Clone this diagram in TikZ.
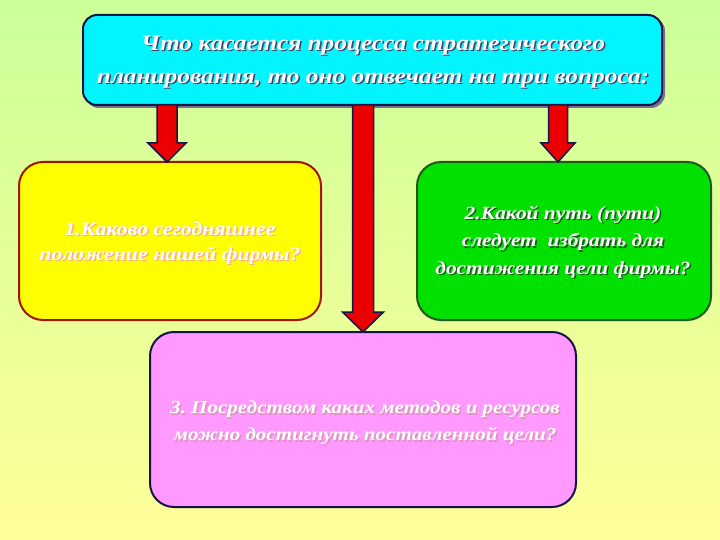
\documentclass[tikz,border=0pt]{standalone}
\usepackage{fontspec}
\setmainfont{Liberation Serif}
\newfontfamily\boxfont[FakeStretch=1.15]{Liberation Serif}
\usetikzlibrary{calc}
\frenchspacing
\definecolor{bgtop}{RGB}{204,255,153}
\definecolor{bgbot}{RGB}{255,255,153}
\definecolor{boxcyan}{RGB}{0,245,255}
\definecolor{boxyellow}{RGB}{255,255,0}
\definecolor{boxgreen}{RGB}{0,225,0}
\definecolor{boxpink}{RGB}{255,153,255}
\definecolor{arrred}{RGB}{235,0,0}
\definecolor{navyline}{RGB}{20,20,70}
\definecolor{redline}{RGB}{160,20,0}
\definecolor{greenline}{RGB}{30,90,30}
\tikzset{
  box/.style={rounded corners=#1, line width=2pt},
  txt/.style={text=white, align=center, inner sep=0pt},
  shd/.style={text=#1, align=center, inner sep=0pt},
  blockarr/.style={fill=arrred, draw=navyline, line width=1.5pt, line join=miter},
}
\newcommand{\shtext}[5]{% name, position, shadowcolor, font size spec, text
  \node[shd=#3, font={\boxfont\bfseries\itshape#4}] at ($#2+(1.5,1.5)$) {#5};
  \node[txt, font={\boxfont\bfseries\itshape#4}] (#1) at #2 {#5};
}
\begin{document}
\begin{tikzpicture}[x=1pt,y=-1pt]
\useasboundingbox (0,0) rectangle (720,540);
\shade[top color=bgtop, bottom color=bgbot] (0,0) rectangle (720,540);

% boxes
\fill[navyline!60, rounded corners=14pt] (85,17) rectangle (665,108);
\draw[box=14pt, fill=boxcyan, draw=navyline] (83,15) rectangle (662,105);
\coordinate (topS) at (372,105);
\draw[box=24pt, fill=boxyellow, draw=redline] (19,162) rectangle (321,320);
\coordinate (yelN) at (167,162);
\draw[box=24pt, fill=boxgreen, draw=greenline] (417,162) rectangle (711,320);
\coordinate (grnN) at (558,162);
\draw[box=24pt, fill=boxpink, draw=navyline] (150,332) rectangle (576,507);
\coordinate (pnkN) at (363,332);

% block arrows
\draw[blockarr] let \p1=(yelN), \p2=(topS) in
  (\x1-10pt,\y2) -- (\x1+10pt,\y2) -- (\x1+10pt,\y1+19pt) -- (\x1+19pt,\y1+19pt)
  -- (\x1,\y1) -- (\x1-19pt,\y1+19pt) -- (\x1-10pt,\y1+19pt) -- cycle;
\draw[blockarr] let \p1=(pnkN), \p2=(topS) in
  (\x1-10.5pt,\y2) -- (\x1+10.5pt,\y2) -- (\x1+10.5pt,\y1+20pt) -- (\x1+20.5pt,\y1+20pt)
  -- (\x1,\y1) -- (\x1-20.5pt,\y1+20pt) -- (\x1-10.5pt,\y1+20pt) -- cycle;
\draw[blockarr] let \p1=(grnN), \p2=(topS) in
  (\x1-9.5pt,\y2) -- (\x1+9.5pt,\y2) -- (\x1+9.5pt,\y1+19pt) -- (\x1+17pt,\y1+19pt)
  -- (\x1,\y1) -- (\x1-17pt,\y1+19pt) -- (\x1-9.5pt,\y1+19pt) -- cycle;

% texts
\shtext{t0}{(373,62)}{navyline!80}{\fontsize{22}{33}\selectfont}{Что касается процесса стратегического\\планирования, то оно отвечает на три вопроса:}
\shtext{t1}{(170,243)}{orange!70!red!50}{\fontsize{19}{25}\selectfont}{1.Каково сегодняшнее\\положение нашей фирмы?}
\shtext{t2}{(563,242)}{greenline}{\fontsize{18.6}{27.5}\selectfont}{2.Какой путь (пути)\\следует\ \ избрать для\\достижения цели фирмы?}
\shtext{t3}{(365,423)}{magenta!60!gray!60}{\fontsize{18.3}{27}\selectfont}{3. Посредством каких методов и ресурсов\\можно достигнуть поставленной цели?}
\end{tikzpicture}
\end{document}
